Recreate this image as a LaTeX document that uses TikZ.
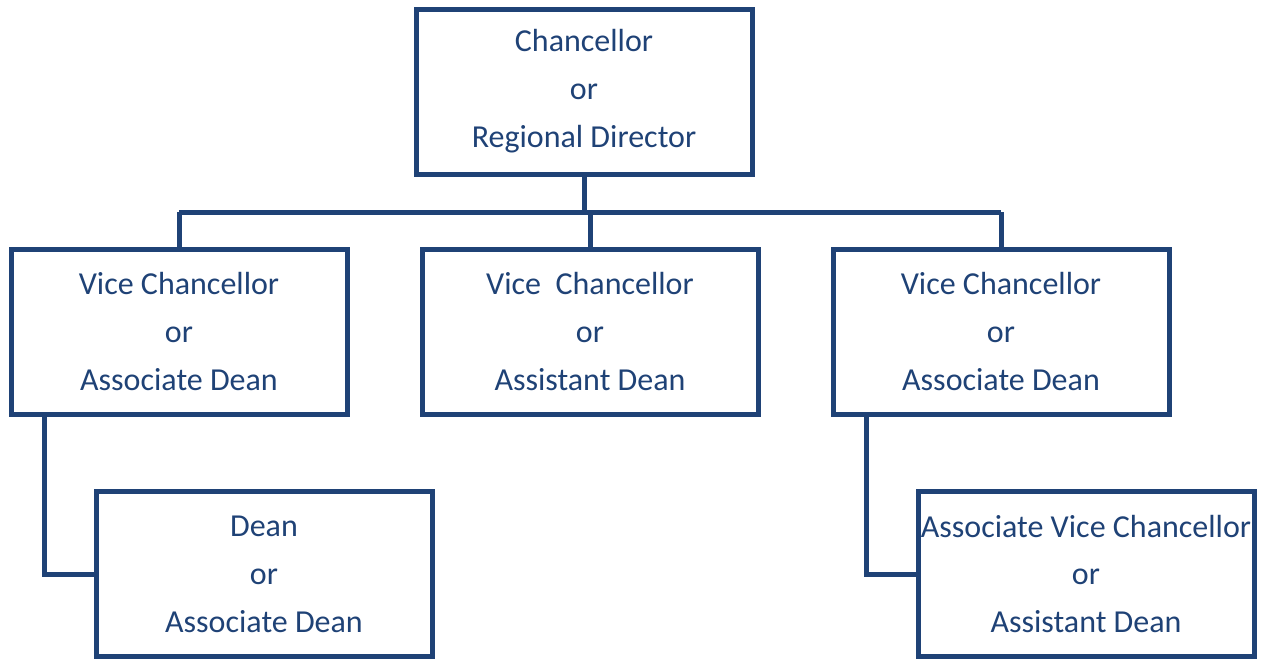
\documentclass[tikz,border=0pt]{standalone}
\usepackage{fontspec}
\setmainfont{Carlito}
\definecolor{orgblue}{HTML}{1F4276}

\begin{document}
\begin{tikzpicture}[x=1pt,y=-1pt,
    box/.style={draw=orgblue,line width=5pt,minimum width=336pt,minimum height=165pt,inner sep=0pt,align=center,text=orgblue,font=\fontsize{32}{48}\selectfont},
    link/.style={draw=orgblue,line width=5pt}]

    \useasboundingbox (0,0) rectangle (1262,659);

    \node[box] (chancellor) at (584,91.5) {Chancellor\\or\\Regional Director};
    \node[box] (viceL) at (179,331.5) {Vice Chancellor\\or\\Associate Dean};
    \node[box] (viceM) at (590,331.5) {Vice\ \ Chancellor\\or\\Assistant Dean};
    \node[box] (viceR) at (1001,331.5) {Vice Chancellor\\or\\Associate Dean};
    \node[box] (deanL) at (264,574) {Dean\\or\\Associate Dean};
    \node[box] (assocR) at (1086,574) {Associate Vice Chancellor\\or\\Assistant Dean};

    \coordinate (busL) at (179,212);
    \coordinate (busR) at (1001,212);

    \path[link] (chancellor.south) -- (chancellor.south |- busL);
    \path[link] (busL) -- (busR);
    \path[link] (busL) -- (viceL.north);
    \path[link] (viceM.north |- busL) -- (viceM.north);
    \path[link] (busR) -- (viceR.north);
    \path[link] ([xshift=-135pt]viceL.south) |- (deanL.west);
    \path[link] ([xshift=-135pt]viceR.south) |- (assocR.west);
\end{tikzpicture}
\end{document}
